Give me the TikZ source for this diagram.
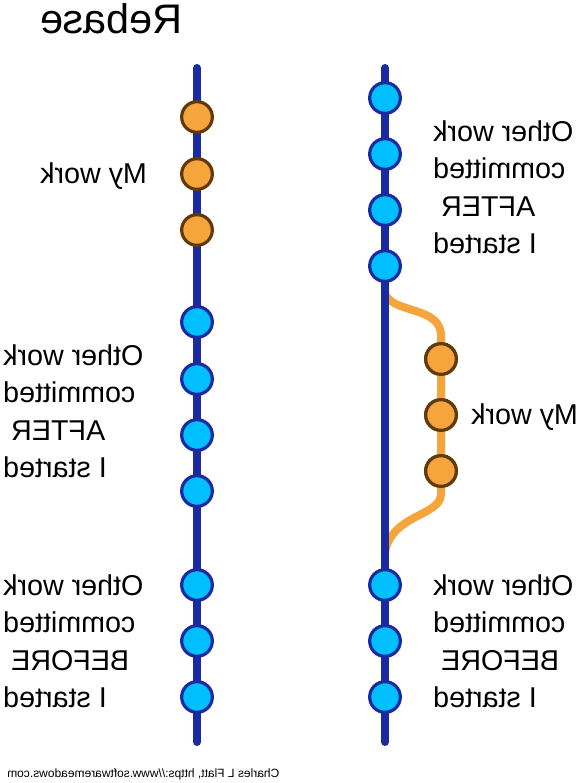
\documentclass[tikz,border=0pt]{standalone}
\usepackage{fontspec}
\setmainfont{Liberation Sans}
\usepackage{graphicx}
\usetikzlibrary{positioning}
\definecolor{trunkblue}{RGB}{26,42,160}
\definecolor{commitblue}{RGB}{0,191,255}
\definecolor{mineorange}{RGB}{245,165,60}
\definecolor{minebrown}{RGB}{96,58,8}
% the whole drawing is shown mirrored, text included
\newcommand{\mirrored}[1]{\reflectbox{\begin{tabular}{@{}r@{}}#1\end{tabular}}}
\newcommand{\gap}{\kern0.28em}

\begin{document}
\begin{tikzpicture}[
  x=0.75pt, y=-0.75pt,
  trunk/.style={draw=trunkblue, line width=6pt, line cap=round},
  branch/.style={draw=mineorange, line width=6pt},
  commit/.style={circle, line width=2.4pt, minimum size=23pt, inner sep=0pt},
  theirs/.style={commit, draw=trunkblue, fill=commitblue},
  mine/.style={commit, draw=minebrown, fill=mineorange},
  lbl/.style={inner sep=0pt, anchor=west, font=\fontsize{21.5}{28}\selectfont}
]
\useasboundingbox (0,0) rectangle (578,783);

% title and credit
\node[inner sep=0pt, anchor=base west, font=\fontsize{31}{36}\selectfont] (title) at (40,33) {\reflectbox{Rebase}};
\node[inner sep=0pt, anchor=base west, font=\fontsize{9}{11}\selectfont] (credit) at (7,777) {\reflectbox{Charles L Flatt, https://www.softwaremeadows.com}};

% left: before rebase
\coordinate (ltop) at (197,68);
\coordinate (lbot) at (197,742);
\draw[trunk] (ltop) -- (lbot);
\foreach \y [count=\i] in {117,174,230}
  \node[mine] (lm\i) at (197,\y) {};
\foreach \y [count=\i] in {322,379,435,491,585,641,697}
  \node[theirs] (lt\i) at (197,\y) {};

% right: after rebase
\coordinate (rtop) at (385,68);
\coordinate (rbot) at (385,742);
\coordinate (fork) at (385,294);
\coordinate (join) at (385,552);
\coordinate (btop) at (441,336);
\coordinate (bbot) at (441,494);
\foreach \y [count=\i] in {359,415,471}
  \node[mine] (rm\i) at (441,\y) {};
\draw[branch] (fork) .. controls (394,314) and (441,306) .. (btop) -- (bbot)
  .. controls (441,516) and (392,514) .. (join);
\draw[trunk] (rtop) -- (rbot);
\foreach \i in {1,2,3}
  \node[mine] at (rm\i) {};
\foreach \y [count=\i] in {98,154,210,266,585,641,697}
  \node[theirs] (rt\i) at (385,\y) {};

% labels
\node[lbl] (lmine) at (40,176) {\mirrored{My work}};
\node[lbl] (lafter) at (3,414) {\mirrored{Other work\\committed\\AFTER\gap\\I started}};
\node[lbl] (lbefore) at (3,644) {\mirrored{Other work\\committed\\BEFORE\gap\\I started}};
\node[lbl] (rafter) at (433,190) {\mirrored{Other work\\committed\\AFTER\gap\\I started}};
\node[lbl] (rmine) at (471,417) {\mirrored{My work}};
\node[lbl] (rbefore) at (433,644) {\mirrored{Other work\\committed\\BEFORE\gap\\I started}};
\end{tikzpicture}
\end{document}
